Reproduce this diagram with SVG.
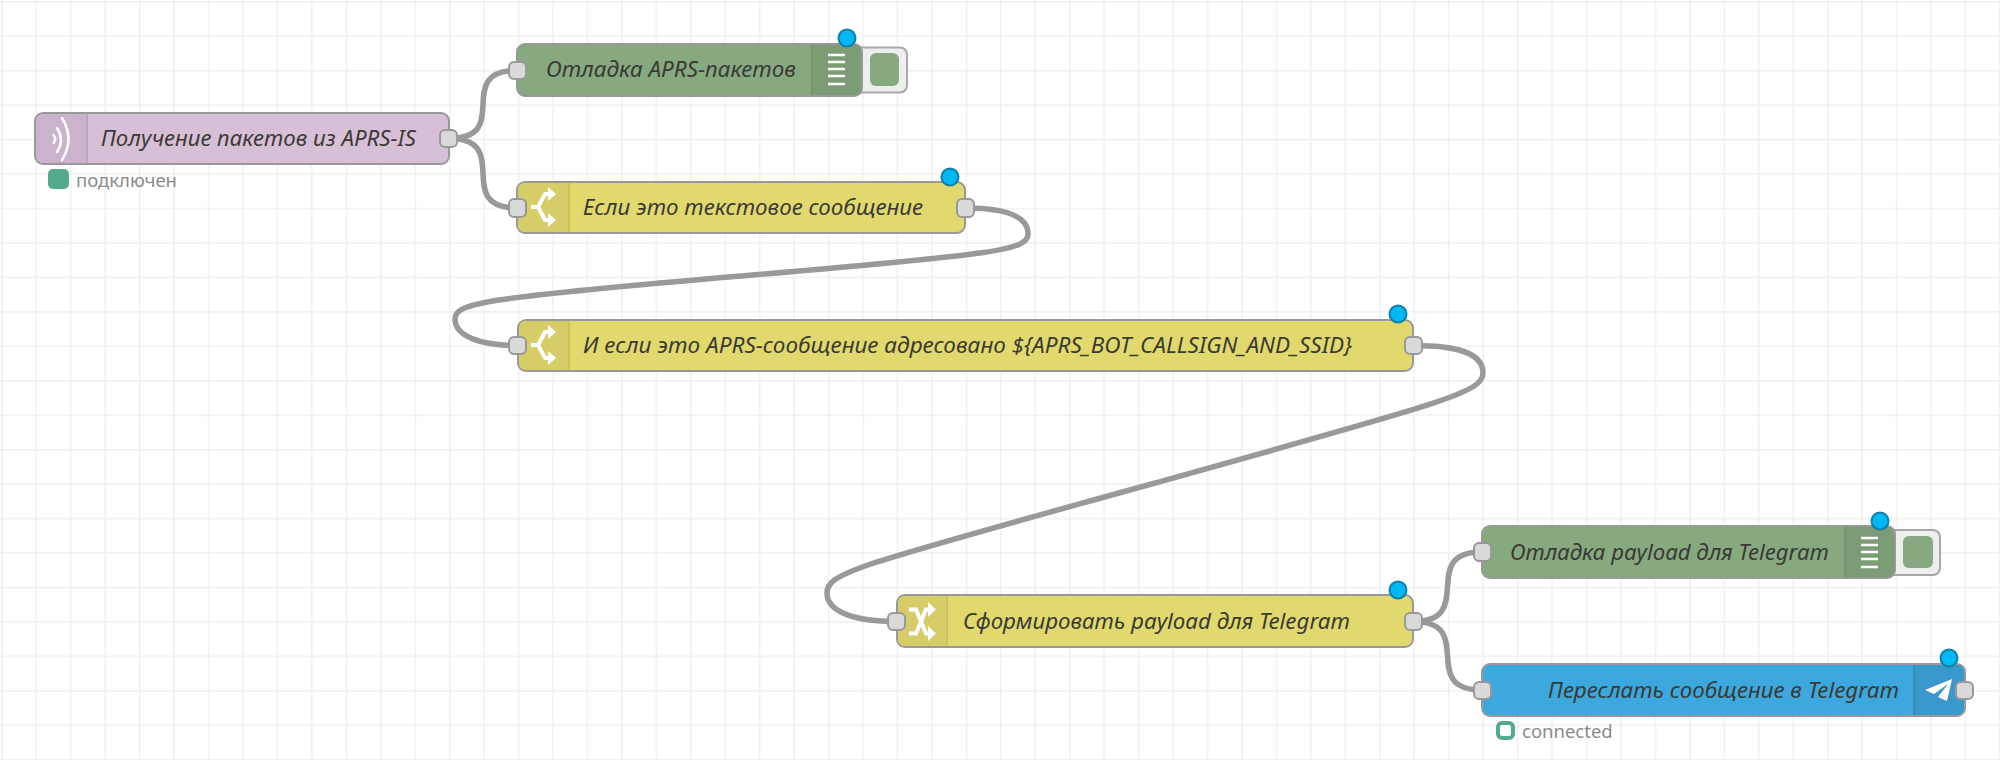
<svg xmlns="http://www.w3.org/2000/svg" width="2000" height="760" viewBox="0 0 2000 760">
<style>
.n{stroke:#999;stroke-width:2}
.t{font:italic 22.400px "Noto Sans","Open Sans",sans-serif;fill:#3a3a35}
.s{font:18.500px "Noto Sans","Open Sans",sans-serif;fill:#8a8a8a}
.port{fill:#d9d9d9;stroke:#999;stroke-width:2}
.dot{fill:#00b8f5;stroke:#0e7fa6;stroke-width:2}
.w{stroke:#999;stroke-width:5.500;fill:none}
.ic{fill:none;stroke:#fff}
.y{fill:#e2d96e}.yi{fill:#d6cd68}
.g{fill:#87a980}.gi{fill:#7b9c75}
</style>
<defs>
<pattern id="grid" width="34.45" height="34.45" patternUnits="userSpaceOnUse" x="1" y="1">
<path d="M0 0V34.45M0 0H34.45" stroke="#f0f0f0" stroke-width="3" fill="none"/>
</pattern>
<g id="sw"><path d="M0 20H7L14 7H20M7 20L14 33H20" class="ic" stroke-width="4" stroke-linejoin="round"/><path d="M17 0L25 7L17 14ZM17 26L25 33L17 40Z" fill="#fff"/></g>
<g id="dbg"><path d="M0 0H17M0 7H17M0 14H17M0 21H17M0 29H17" stroke="#fff" stroke-width="2.600" fill="none"/></g>
</defs>
<rect width="2000" height="760" fill="#fff"/>
<rect width="2000" height="760" fill="url(#grid)"/>
<g id="connectors">
<path class="w" d="M449 138.500C514 138.500 452 70.500 517 70.500"/>
<path class="w" d="M449 138.500C514 138.500 452 208 517 208"/>
<path class="w" d="M965 208C1005 208 1028 216 1028 234C1028 250 1000 254 741 276C482 298 455 303 455 319C455 336 480 345.500 517 345.500"/>
<path class="w" d="M1413 345.500C1455 345.500 1483 352 1483 373C1483 392 1450 401 1155 483C860 565 827 572 827 593C827 612 855 621.500 897 621.500"/>
<path class="w" d="M1413 621.500C1478 621.500 1417 552 1482 552"/>
<path class="w" d="M1413 621.500C1478 621.500 1417 690 1482 690"/>
</g>
<g id="node-aprs">
<rect class="n" x="35" y="113" width="414" height="51" rx="8" fill="#d8bfd8"/>
<path d="M86 114H43a7 7 0 0 0-7 7V156a7 7 0 0 0 7 7H86Z" fill="#ccb3cd"/>
<path d="M87 114V163" stroke="#b59cb7" stroke-width="1.500"/>
<path d="M53.500 135Q57 139 53.500 143M57 128Q65 140 57 152M62 118Q75 139 62 160" class="ic" stroke-width="2.500" stroke-linecap="round"/>
<text class="t" x="101" y="146" textLength="315" lengthAdjust="spacingAndGlyphs">Получение пакетов из APRS-IS</text>
<rect class="port" x="440" y="130" width="17" height="17" rx="5"/>
<rect x="48" y="169" width="21" height="20" rx="5" fill="#54ab8c"/>
<text class="s" x="76" y="187">подключен</text>
</g>
<g id="node-debug1">
<rect x="850" y="47.500" width="57" height="45" rx="7" fill="#eee" stroke="#a8a8a8" stroke-width="2"/>
<rect x="870" y="53" width="29" height="33" rx="6" fill="#87a980"/>
<rect class="n g" x="517" y="44" width="345" height="52" rx="8"/>
<path class="gi" d="M812 45H854a7 7 0 0 1 7 7V88a7 7 0 0 1-7 7H812Z"/>
<path d="M812 45V95" stroke="#6f8f6a" stroke-width="1.500"/>
<use href="#dbg" x="828" y="55"/>
<text class="t" x="546" y="77" textLength="250" lengthAdjust="spacingAndGlyphs">Отладка APRS-пакетов</text>
<rect class="port" x="509" y="62" width="17" height="17" rx="5"/>
<circle class="dot" cx="847" cy="38" r="8.500"/>
</g>
<g id="node-switch1">
<rect class="n y" x="517" y="182" width="448" height="51" rx="8"/>
<path class="yi" d="M569 183H525a7 7 0 0 0-7 7V225a7 7 0 0 0 7 7H569Z"/>
<path d="M569 183V232" stroke="#c4bc60" stroke-width="1.500"/>
<use href="#sw" x="531" y="187"/>
<text class="t" x="583" y="215" textLength="340" lengthAdjust="spacingAndGlyphs">Если это текстовое сообщение</text>
<rect class="port" x="509" y="199" width="17" height="18" rx="5"/>
<rect class="port" x="957" y="199" width="17" height="18" rx="5"/>
<circle class="dot" cx="950" cy="177" r="8.500"/>
</g>
<g id="node-switch2">
<rect class="n y" x="518" y="320" width="895" height="51" rx="8"/>
<path class="yi" d="M569 321H526a7 7 0 0 0-7 7V363a7 7 0 0 0 7 7H569Z"/>
<path d="M569 321V370" stroke="#c4bc60" stroke-width="1.500"/>
<use href="#sw" x="531" y="325"/>
<text class="t" x="583" y="353" textLength="769" lengthAdjust="spacingAndGlyphs">И если это APRS-сообщение адресовано ${APRS_BOT_CALLSIGN_AND_SSID}</text>
<rect class="port" x="509" y="337" width="17" height="17" rx="5"/>
<rect class="port" x="1405" y="337" width="17" height="17" rx="5"/>
<circle class="dot" cx="1398" cy="314" r="8.500"/>
</g>
<g id="node-function">
<rect class="n y" x="897" y="595" width="516" height="52" rx="8"/>
<path class="yi" d="M947 596H905a7 7 0 0 0-7 7V639a7 7 0 0 0 7 7H947Z"/>
<path d="M947 596V646" stroke="#c4bc60" stroke-width="1.500"/>
<path d="M909 609.500H916L926 633.500H930M909 633.500H916L926 609.500H930" class="ic" stroke-width="4"/>
<path d="M928 602L936 609.500L928 617ZM928 626L936 633.500L928 641Z" fill="#fff"/>
<text class="t" x="963" y="629" textLength="387" lengthAdjust="spacingAndGlyphs">Сформировать payload для Telegram</text>
<rect class="port" x="888" y="613" width="17" height="17" rx="5"/>
<rect class="port" x="1405" y="613" width="17" height="17" rx="5"/>
<circle class="dot" cx="1398" cy="590" r="8.500"/>
</g>
<g id="node-debug2">
<rect x="1880" y="530" width="60" height="45" rx="7" fill="#eee" stroke="#a8a8a8" stroke-width="2"/>
<rect x="1903" y="536" width="30" height="32" rx="6" fill="#87a980"/>
<rect class="n g" x="1482" y="526" width="413" height="52" rx="8"/>
<path class="gi" d="M1845 527H1887a7 7 0 0 1 7 7V570a7 7 0 0 1-7 7H1845Z"/>
<path d="M1845 527V577" stroke="#6f8f6a" stroke-width="1.500"/>
<use href="#dbg" x="1861" y="538"/>
<text class="t" x="1510" y="560" textLength="319" lengthAdjust="spacingAndGlyphs">Отладка payload для Telegram</text>
<rect class="port" x="1474" y="543" width="17" height="18" rx="5"/>
<circle class="dot" cx="1880" cy="521" r="8.500"/>
</g>
<g id="node-telegram">
<rect class="n" x="1482" y="664" width="483" height="52" rx="8" fill="#3ca8dd"/>
<path d="M1914 665H1957a7 7 0 0 1 7 7V708a7 7 0 0 1-7 7H1914Z" fill="#3a98cc"/>
<path d="M1914 665V715" stroke="#3286b5" stroke-width="1.500"/>
<path d="M1952 679L1925 690L1934 694L1948 684L1938 697L1947 701Z" fill="#fff"/>
<text class="t" x="1548" y="698" textLength="351" lengthAdjust="spacingAndGlyphs">Переслать сообщение в Telegram</text>
<rect class="port" x="1474" y="682" width="17" height="17" rx="5"/>
<rect class="port" x="1956" y="682" width="17" height="17" rx="5"/>
<circle class="dot" cx="1949" cy="658" r="8.500"/>
<rect x="1498" y="723" width="15" height="15" rx="4" fill="#fff" stroke="#54ab8c" stroke-width="4"/>
<text class="s" x="1522" y="738">connected</text>
</g>
</svg>
